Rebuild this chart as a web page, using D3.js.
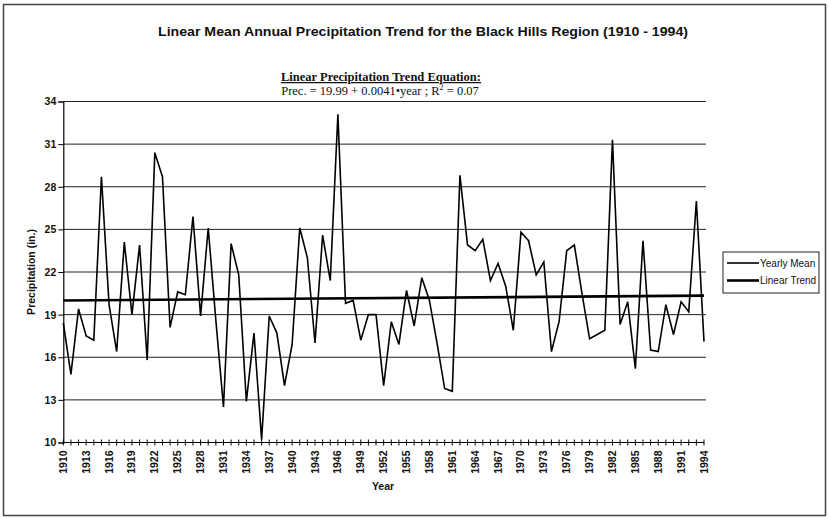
<!DOCTYPE html>
<html>
<head>
<meta charset="utf-8">
<script src="https://cdn.jsdelivr.net/npm/d3@7"></script>
<style>
  body { margin: 0; background: #fff; }
  svg { display: block; }
</style>
</head>
<body>
<svg id="chart"></svg>
<script>
// yearly mean precipitation (in.), 1910 - 1994
const years = d3.range(1910, 1995);
const precip = [
  18.4, 14.8, 19.4, 17.5, 17.2, 28.7, 19.7, 16.4, 24.1, 19.0,
  23.9, 15.8, 30.4, 28.7, 18.1, 20.6, 20.4, 25.9, 18.9, 25.1,
  18.6, 12.5, 24.0, 21.8, 12.9, 17.7, 10.2, 18.9, 17.7, 14.0,
  16.9, 25.1, 23.0, 17.0, 24.6, 21.4, 33.1, 19.8, 20.0, 17.2,
  19.0, 19.0, 14.0, 18.5, 16.9, 20.7, 18.2, 21.6, 20.0, 17.0,
  13.8, 13.6, 28.8, 23.9, 23.5, 24.3, 21.4, 22.6, 21.0, 17.9,
  24.8, 24.2, 21.8, 22.7, 16.4, 18.5, 23.5, 23.9, 20.5, 17.3,
  17.6, 17.9, 31.3, 18.3, 19.9, 15.2, 24.2, 16.5, 16.4, 19.7,
  17.6, 19.9, 19.2, 27.0, 17.1
];
// trend: Prec = 19.99 + 0.0041 * n  (n = 1 for 1910)
const trendIntercept = 19.99;
const trendSlope = 0.0041;

const yTicks = [10, 13, 16, 19, 22, 25, 28, 31, 34];
const yearLabels = [1910, 1913, 1916, 1919, 1922, 1925, 1928, 1931, 1934, 1937, 1940,
  1943, 1946, 1949, 1952, 1955, 1958, 1961, 1964, 1967, 1970, 1973, 1976, 1979,
  1982, 1985, 1988, 1991, 1994];
const legendItems = ["Yearly Mean", "Linear Trend"];

const width = 829, height = 518;

const svg = d3.select("#chart")
    .attr("width", width)
    .attr("height", height)
    .style("font-family", "'Liberation Sans', Arial, sans-serif");

// outer frame
svg.append("rect")
    .attr("x", 3.5).attr("y", 4.5)
    .attr("width", 822).attr("height", 511)
    .attr("fill", "none")
    .attr("stroke", "#444")
    .attr("stroke-width", 1.5);

const x = d3.scaleLinear()
    .domain([1910, 1994])
    .range([63.3, 704]);

const y = d3.scaleLinear()
    .domain([10, 34])
    .range([442.5, 101.5]);

// gridlines
svg.append("g")
    .selectAll("line")
    .data(yTicks.filter(d => d > 10))
    .join("line")
    .attr("x1", x(1910))
    .attr("x2", x(1994) + 2)
    .attr("y1", d => y(d))
    .attr("y2", d => y(d))
    .attr("stroke", "#222")
    .attr("stroke-width", 1);

// y axis
const yAxis = svg.append("g")
    .attr("transform", `translate(${x(1910)},0)`)
    .call(d3.axisLeft(y).tickValues(yTicks).tickSize(5).tickPadding(2).tickFormat(d3.format("d")));
yAxis.select(".domain").attr("stroke", "#000").attr("stroke-width", 1.2);
yAxis.selectAll("text")
    .attr("font-size", 10.5)
    .attr("font-weight", "bold")
    .attr("fill", "#111")
    .style("font-family", "'Liberation Sans', Arial, sans-serif");

// x axis: baseline, cross ticks every year, labels every 3 years
const xAxis = svg.append("g");
xAxis.append("line")
    .attr("x1", x(1910)).attr("x2", x(1994))
    .attr("y1", y(10)).attr("y2", y(10))
    .attr("stroke", "#000").attr("stroke-width", 1.2);
xAxis.selectAll(".tick")
    .data(years)
    .join("line")
    .attr("class", "tick")
    .attr("x1", d => x(d)).attr("x2", d => x(d))
    .attr("y1", y(10) - 3).attr("y2", y(10) + 3)
    .attr("stroke", "#000");
xAxis.selectAll(".lbl")
    .data(yearLabels)
    .join("text")
    .attr("class", "lbl")
    .attr("transform", d => `translate(${x(d) + 3.5},${y(10) + 8}) rotate(-90)`)
    .attr("text-anchor", "end")
    .attr("font-size", 10.5)
    .attr("font-weight", "bold")
    .attr("fill", "#111")
    .text(d => d);

// yearly mean line
svg.append("path")
    .datum(precip)
    .attr("fill", "none")
    .attr("stroke", "#000")
    .attr("stroke-width", 1.6)
    .attr("d", d3.line().x((d, i) => x(years[i])).y(d => y(d)));

// linear trend line
const trend = [years[0], years[years.length - 1]]
    .map(yr => ({ yr, v: trendIntercept + trendSlope * (yr - 1909) }));
svg.append("path")
    .datum(trend)
    .attr("fill", "none")
    .attr("stroke", "#000")
    .attr("stroke-width", 2.6)
    .attr("d", d3.line().x(d => x(d.yr)).y(d => y(d.v)));

// titles
svg.append("text")
    .attr("x", 423).attr("y", 36)
    .attr("text-anchor", "middle")
    .attr("font-size", 12.5)
    .attr("font-weight", "bold")
    .attr("textLength", 530)
    .attr("lengthAdjust", "spacingAndGlyphs")
    .attr("fill", "#111")
    .text("Linear Mean Annual Precipitation Trend for the Black Hills Region (1910 - 1994)");

const eq = svg.append("g")
    .style("font-family", "'Liberation Serif', 'Times New Roman', serif")
    .attr("fill", "#111");
eq.append("text")
    .attr("x", 381).attr("y", 81)
    .attr("text-anchor", "middle")
    .attr("font-size", 12.5)
    .attr("font-weight", "bold")
    .attr("text-decoration", "underline")
    .text("Linear Precipitation Trend Equation:");
const eq2 = eq.append("text")
    .attr("x", 380).attr("y", 95)
    .attr("text-anchor", "middle")
    .attr("font-size", 12.5);
eq2.append("tspan").text("Prec. = 19.99 + 0.0041\u2022year ;  R");
eq2.append("tspan").attr("dy", -5).attr("font-size", 8).text("2");
eq2.append("tspan").attr("dy", 5).text(" = 0.07");

// axis titles
svg.append("text")
    .attr("transform", `translate(35,${(y(10) + y(34)) / 2}) rotate(-90)`)
    .attr("text-anchor", "middle")
    .attr("font-size", 10.5)
    .attr("font-weight", "bold")
    .attr("fill", "#111")
    .text("Precipitation (in.)");

svg.append("text")
    .attr("x", 383).attr("y", 490)
    .attr("text-anchor", "middle")
    .attr("font-size", 10.5)
    .attr("font-weight", "bold")
    .attr("fill", "#111")
    .text("Year");

// legend
const legend = svg.append("g").attr("transform", "translate(723,252)");
legend.append("rect")
    .attr("width", 96).attr("height", 41)
    .attr("fill", "#fff")
    .attr("stroke", "#222");
const li = legend.selectAll("g")
    .data(legendItems)
    .join("g")
    .attr("transform", (d, i) => `translate(0,${11 + i * 17.5})`);
li.append("line")
    .attr("x1", 4).attr("x2", 36)
    .attr("stroke", "#000")
    .attr("stroke-width", (d, i) => i === 0 ? 1.6 : 2.6);
li.append("text")
    .attr("x", 37).attr("dy", "0.35em")
    .attr("font-size", 10)
    .attr("fill", "#111")
    .text(d => d);
</script>
</body>
</html>
